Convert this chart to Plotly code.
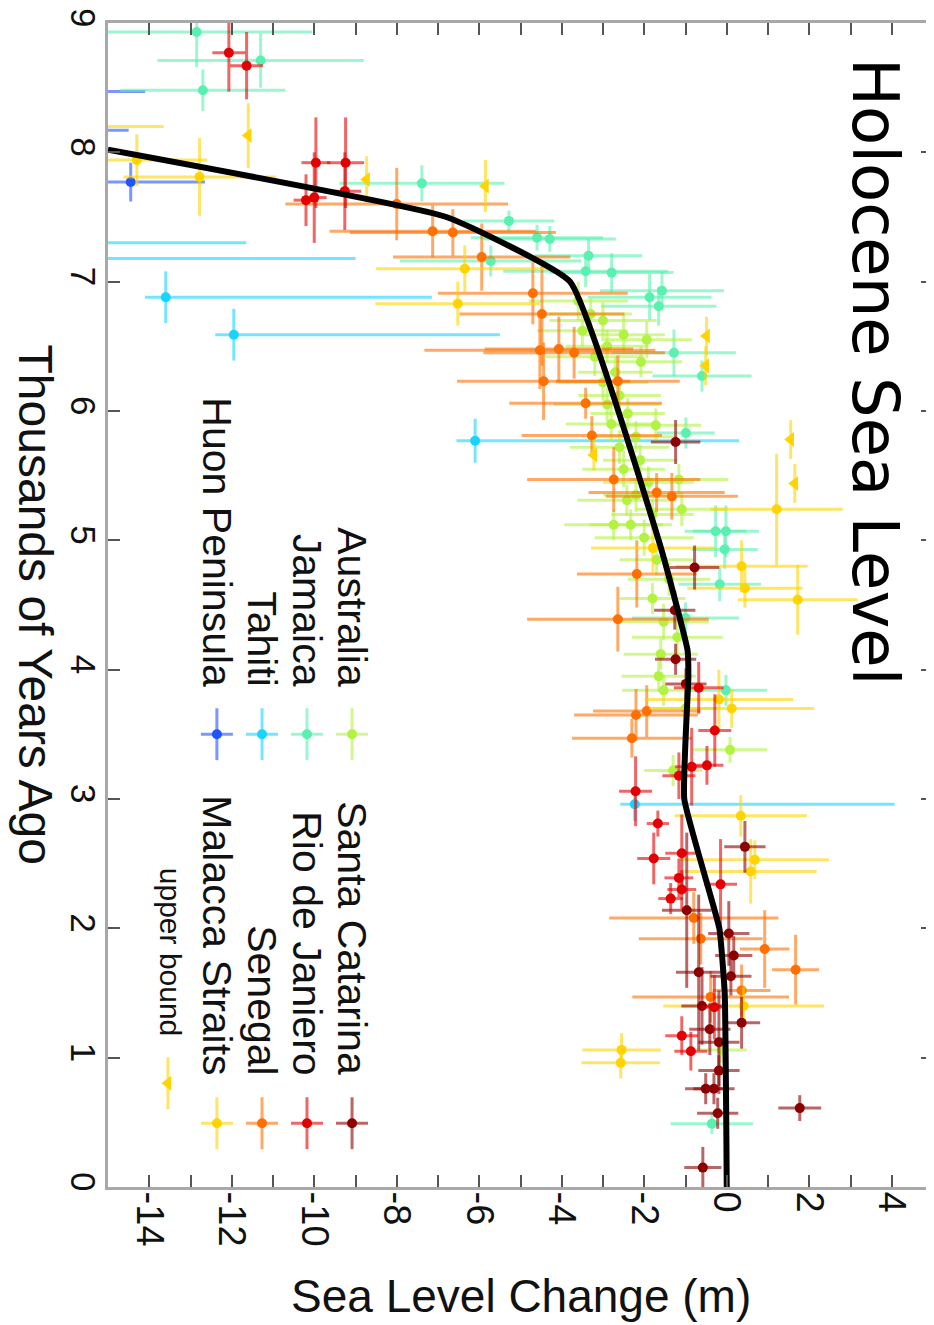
import plotly.graph_objects as go

# ---------------- data (age in kyr BP, sea level in m) ----------------
huon_age = [7.77, 8.47, 8.17]
huon_sea = [-14.45, -17.0, -17.5]
huon_sea_err = [1.8, 2.9, 3.0]
huon_age_err = [0.15, 0.0, 0.0]

tahiti_age = [6.88, 6.59, 5.77, 2.96, 7.30, 7.18]
tahiti_sea = [-13.6, -11.95, -6.1, -2.23, -17.8, -18.0]
tahiti_sea_err_minus = [0.5, 0.45, 0.45, 0.35, 0.45, 0.45]
tahiti_sea_err_plus = [6.45, 6.45, 6.4, 6.3, 6.15, 9.0]
tahiti_age_err = [0.2, 0.2, 0.17, 0.13, 0.0, 0.0]

jamaica_age = [8.93, 8.71, 8.48, 7.76, 7.47, 7.16, 7.34, 7.33, 7.20, 7.08, 7.07, 6.88,
               6.93, 6.81, 6.45, 6.27, 5.83, 5.07, 5.07, 4.93, 4.66, 4.40, 3.84, 0.49]
jamaica_sea = [-12.85, -11.3, -12.7, -7.39, -5.28, -5.72, -4.6, -4.29, -3.35, -3.42, -2.79, -1.87,
               -1.57, -1.65, -1.28, -0.6, -0.99, -0.27, -0.02, -0.05, -0.17, -1.0, -0.02, -0.36]
jamaica_sea_err = [2.8, 2.5, 2.0, 2.0, 1.1, 2.2, 1.6, 1.6, 1.3, 2.0, 1.5, 1.5,
                   1.5, 1.4, 1.5, 1.2, 0.7, 0.75, 0.8, 0.8, 1.0, 1.3, 1.0, 1.0]
jamaica_age_err = [0.27, 0.21, 0.16, 0.14, 0.08, 0.12, 0.1, 0.1, 0.13, 0.12, 0.15, 0.18,
                   0.15, 0.15, 0.18, 0.12, 0.12, 0.2, 0.2, 0.15, 0.13, 0.12, 0.12, 0.08]

australia_age = [6.59, 6.55, 6.38, 5.47, 5.24, 5.12, 5.12, 4.37, 3.95, 3.84, 3.38, 5.89, 5.31, 1.06,
                 6.85, 6.75, 6.70, 6.62, 6.50, 6.42, 6.30, 6.22, 6.12, 6.05, 5.98, 5.90, 5.80,
                 5.72, 5.62, 5.55, 5.45, 5.35, 5.20, 5.02, 4.85, 4.70, 4.55, 4.25, 4.12, 3.70, 3.22]
australia_sea = [-2.5, -1.94, -2.08, -1.16, -1.09, -2.74, -2.33, -1.53, -1.65, -1.53, 0.08, -1.72, -2.42, -0.12,
                 -3.6, -3.3, -3.0, -3.5, -2.9, -3.2, -2.7, -3.0, -2.6, -2.9, -2.4, -2.8, -2.2,
                 -2.6, -2.1, -2.5, -1.9, -2.2, -1.8, -2.0, -1.7, -1.4, -1.8, -1.2, -1.6, -1.0, -1.3]
australia_sea_err = [1.0, 1.1, 1.0, 1.2, 1.1, 1.2, 1.0, 1.1, 0.9, 1.0, 0.9, 1.1, 1.2, 0.6,
                     1.2, 1.0, 1.3, 1.1, 1.0, 1.2, 0.9, 1.1, 1.0, 1.3, 0.9, 1.1, 1.0,
                     1.2, 0.9, 1.0, 1.1, 0.8, 1.0, 1.2, 0.9, 1.0, 0.8, 1.1, 0.9, 0.8, 0.7]
australia_age_err = [0.15, 0.14, 0.12, 0.12, 0.13, 0.12, 0.12, 0.14, 0.12, 0.12, 0.1, 0.13, 0.12, 0.1,
                     0.15, 0.12, 0.14, 0.12, 0.13, 0.15, 0.12, 0.14, 0.12, 0.13, 0.12, 0.14, 0.12,
                     0.13, 0.12, 0.14, 0.12, 0.13, 0.12, 0.14, 0.12, 0.13, 0.12, 0.14, 0.12, 0.12, 0.12]

santa_catarina_age = [5.76, 4.79, 4.46, 4.08, 3.89, 2.63, 2.14, 1.96, 1.79, 1.66, 1.63, 1.40,
                      1.27, 1.22, 1.12, 0.90, 0.76, 0.76, 0.57, 0.61, 0.15]
santa_catarina_sea = [-1.24, -0.78, -1.26, -1.24, -0.99, 0.44, -0.97, 0.05, 0.17, -0.68, 0.1, -0.6,
                      0.36, -0.41, -0.19, -0.19, -0.51, -0.31, -0.22, 1.77, -0.58]
santa_catarina_sea_err = [0.6, 0.6, 0.5, 0.5, 0.5, 0.5, 0.6, 0.5, 0.45, 0.55, 0.5, 0.5,
                          0.45, 0.5, 0.5, 0.5, 0.5, 0.5, 0.5, 0.52, 0.45]
santa_catarina_age_err = [0.17, 0.17, 0.15, 0.12, 0.12, 0.2, 0.6, 0.25, 0.15, 0.6, 0.15, 0.3,
                          0.2, 0.2, 0.4, 0.12, 0.12, 0.12, 0.12, 0.1, 0.16]

rio_age = [8.77, 8.67, 7.92, 7.92, 7.63, 7.65, 7.70, 3.86, 3.53, 3.26, 3.25, 3.18, 3.06, 2.81,
           2.54, 2.58, 2.39, 2.30, 2.23, 2.34, 1.17, 1.05, 1.39]
rio_sea = [-12.07, -11.64, -9.96, -9.24, -10.2, -10.0, -9.26, -0.68, -0.29, -0.48, -0.85, -1.16, -2.21, -1.67,
           -1.77, -1.09, -1.16, -1.09, -1.36, -0.15, -1.09, -0.87, -0.3]
rio_sea_err = [0.4, 0.4, 0.35, 0.45, 0.3, 0.3, 0.4, 0.6, 0.4, 0.4, 0.4, 0.4, 0.4, 0.27,
               0.4, 0.4, 0.35, 0.35, 0.3, 0.4, 0.4, 0.4, 0.3]
rio_age_err = [0.3, 0.26, 0.35, 0.35, 0.2, 0.35, 0.3, 0.2, 0.28, 0.15, 0.3, 0.18, 0.27, 0.1,
               0.2, 0.3, 0.15, 0.15, 0.12, 0.35, 0.15, 0.15, 0.25]

senegal_age = [7.60, 7.39, 7.38, 7.19, 6.91, 6.75, 6.47, 6.48, 6.45, 6.23, 6.23, 6.06, 5.81,
               5.47, 5.37, 5.34, 4.74, 4.39, 3.65, 3.68, 3.47, 2.08, 1.92, 1.84, 1.68, 1.52, 1.47]
senegal_sea = [-8.0, -7.13, -6.64, -5.94, -4.7, -4.48, -4.53, -4.07, -3.7, -4.44, -2.64, -3.42, -3.27,
               -2.74, -1.7, -1.33, -2.18, -2.64, -2.2, -1.94, -2.3, -0.8, -0.63, 0.92, 1.67, 0.36, -0.39]
senegal_sea_err = [2.7, 2.5, 2.5, 2.15, 2.3, 2.0, 2.8, 1.8, 2.2, 2.1, 1.5, 1.85, 1.7,
                   2.1, 1.65, 1.6, 1.45, 2.2, 1.5, 1.3, 1.45, 2.05, 1.5, 0.6, 0.57, 0.7, 1.9]
senegal_age_err = [0.28, 0.2, 0.18, 0.26, 0.24, 0.4, 0.3, 0.25, 0.2, 0.3, 0.2, 0.12, 0.15,
                   0.25, 0.15, 0.18, 0.26, 0.25, 0.2, 0.2, 0.15, 0.2, 0.2, 0.3, 0.27, 0.2, 0.2]

malacca_age = [7.81, 7.94, 8.20, 7.10, 6.83, 4.94, 5.24, 4.80, 4.63, 4.54, 3.70, 3.77,
               2.87, 2.53, 2.44, 1.40, 1.06, 0.96]
malacca_sea = [-12.78, -14.3, -17.0, -6.35, -6.52, -1.79, 1.21, 0.36, 0.44, 1.72, 0.12, -0.19,
               0.34, 0.68, 0.58, 0.41, -2.55, -2.57]
malacca_sea_err = [1.85, 1.7, 3.35, 2.15, 2.0, 1.5, 1.6, 1.6, 1.4, 1.45, 2.0, 1.8,
                   1.6, 1.8, 1.6, 1.95, 0.95, 0.95]
malacca_age_err = [0.3, 0.2, 0.0, 0.18, 0.17, 0.2, 0.43, 0.2, 0.15, 0.27, 0.15, 0.23,
                   0.16, 0.15, 0.25, 0.15, 0.13, 0.12]

upper_age = [8.13, 7.79, 7.74, 6.58, 6.35, 5.78, 5.44, 5.66]
upper_sea = [-11.6, -8.73, -5.85, -0.49, -0.51, 1.55, 1.65, -3.22]
upper_age_err = [0.25, 0.18, 0.2, 0.15, 0.15, 0.15, 0.15, 0.12]

curve_age = [8.02, 7.5, 7.0, 5.0, 4.5, 4.15, 3.95, 3.0, 2.0, 1.5, 0.0]
curve_sea = [-15.0, -6.8, -3.8, -1.65, -1.22, -0.95, -0.93, -1.03, -0.18, -0.05, 0.0]

x_tick_values = list(range(-14, 5))
x_tick_labels = [str(v) if v % 2 == 0 else "" for v in x_tick_values]
y_tick_values = list(range(0, 10))
y_tick_labels = [str(v) for v in y_tick_values]

# ---------------- styling ----------------
COLORS = {
    "Australia": (178, 242, 66),
    "Jamaica": (90, 240, 176),
    "Tahiti": (24, 212, 255),
    "Huon Peninsula": (32, 84, 255),
    "Santa Catarina": (140, 0, 0),
    "Rio de Janiero": (226, 0, 0),
    "Senegal": (255, 112, 0),
    "Malacca Straits": (255, 212, 0),
}
FONT = "Liberation Sans, Arial, Helvetica, sans-serif"
ERR_ALPHA = 0.6
ERR_THICK = 3
MARKER_SIZE = 10


def rgb(c, a=1.0):
    return f"rgba({c[0]},{c[1]},{c[2]},{a})"


def err(arr, minus=None, c=(0, 0, 0)):
    d = dict(type="data", array=arr, visible=True, width=0, thickness=ERR_THICK, color=rgb(c, ERR_ALPHA))
    if minus is not None:
        d["symmetric"] = False
        d["arrayminus"] = minus
    return d


series = [
    ("Huon Peninsula", huon_age, huon_sea, huon_sea_err, None, huon_age_err),
    ("Tahiti", tahiti_age, tahiti_sea, tahiti_sea_err_plus, tahiti_sea_err_minus, tahiti_age_err),
    ("Jamaica", jamaica_age, jamaica_sea, jamaica_sea_err, None, jamaica_age_err),
    ("Australia", australia_age, australia_sea, australia_sea_err, None, australia_age_err),
    ("Senegal", senegal_age, senegal_sea, senegal_sea_err, None, senegal_age_err),
    ("Malacca Straits", malacca_age, malacca_sea, malacca_sea_err, None, malacca_age_err),
    ("Santa Catarina", santa_catarina_age, santa_catarina_sea, santa_catarina_sea_err, None, santa_catarina_age_err),
    ("Rio de Janiero", rio_age, rio_sea, rio_sea_err, None, rio_age_err),
]

fig = go.Figure()
for name, age, sea, serr, serr_m, aerr in series:
    c = COLORS[name]
    fig.add_trace(go.Scatter(
        x=sea, y=age, mode="markers", name=name, showlegend=False,
        marker=dict(size=MARKER_SIZE, color=rgb(c)),
        error_x=err(serr, serr_m, c=c),
        error_y=err(aerr, c=c),
    ))

c = COLORS["Malacca Straits"]
fig.add_trace(go.Scatter(
    x=upper_sea, y=upper_age, mode="markers", name="upper bound", showlegend=False,
    marker=dict(size=13, symbol="triangle-left", color=rgb(c)),
    error_y=err(upper_age_err, c=c),
))

fig.add_trace(go.Scatter(
    x=curve_sea, y=curve_age, mode="lines", showlegend=False,
    line=dict(color="black", width=6, shape="spline", smoothing=0.35),
))

# ---------------- hand-made rotated legend (overlay axes in plot fractions) ----------------
legend_left = ["Australia", "Jamaica", "Tahiti", "Huon Peninsula"]
legend_right = ["Santa Catarina", "Rio de Janiero", "Senegal", "Malacca Straits"]
col_x = [0.2958, 0.2412, 0.1867, 0.1320]
row_marker_y = [0.389, 0.0548]
row_text_y = [0.4276, 0.0943]

for row, names in enumerate([legend_left, legend_right]):
    for i, name in enumerate(names):
        c = COLORS[name]
        fig.add_trace(go.Scatter(
            x=[col_x[i]], y=[row_marker_y[row]], xaxis="x2", yaxis="y2", mode="markers",
            showlegend=False, marker=dict(size=MARKER_SIZE, color=rgb(c)),
            error_x=dict(type="constant", value=0.0194, width=0, thickness=ERR_THICK, color=rgb(c, ERR_ALPHA)),
            error_y=dict(type="constant", value=0.0223, width=0, thickness=ERR_THICK, color=rgb(c, ERR_ALPHA)),
        ))
        fig.add_annotation(
            x=col_x[i], y=row_text_y[row], xref="paper", yref="paper", text=name,
            textangle=90, showarrow=False, xanchor="center", yanchor="bottom",
            font=dict(family=FONT, size=41, color="#111111"),
        )

c = COLORS["Malacca Straits"]
fig.add_trace(go.Scatter(
    x=[0.0727], y=[0.0891], xaxis="x2", yaxis="y2", mode="markers", showlegend=False,
    marker=dict(size=13, symbol="triangle-left", color=rgb(c)),
    error_y=dict(type="constant", value=0.0223, width=0, thickness=ERR_THICK, color=rgb(c, ERR_ALPHA)),
))
fig.add_annotation(
    x=0.0752, y=0.1277, xref="paper", yref="paper", text="upper bound", textangle=90,
    showarrow=False, xanchor="center", yanchor="bottom",
    font=dict(family=FONT, size=30, color="#111111"),
)

# ---------------- titles ----------------
fig.add_annotation(
    x=0.93, y=0.700, xref="paper", yref="paper", text="Holocene Sea Level", textangle=90,
    showarrow=False, xanchor="center", yanchor="middle",
    font=dict(family="DejaVu Sans, sans-serif", size=64, color="black"),
)
fig.add_annotation(
    x=-0.0885, y=0.5004, xref="paper", yref="paper", text="Thousands of Years Ago", textangle=90,
    showarrow=False, xanchor="center", yanchor="middle",
    font=dict(family=FONT, size=48, color="#111111"),
)
fig.add_annotation(
    x=0.5, y=-0.0935, xref="paper", yref="paper", text="Sea Level Change (m)",
    showarrow=False, xanchor="center", yanchor="middle",
    font=dict(family=FONT, size=46, color="#111111"),
)

axis_common = dict(
    showline=True, linecolor="#a8a8a8", linewidth=3, mirror="ticks",
    ticks="inside", ticklen=12, tickwidth=1.5, tickcolor="#555555",
    showgrid=False, zeroline=False, tickangle=90, ticklabeloverflow="allow",
    automargin=False,
)

# the page body adds an 8px offset, so margins are shifted to keep the plot area in place
fig.update_layout(
    width=934, height=1325,
    margin=dict(l=100, r=9, t=15, b=146, autoexpand=False),
    paper_bgcolor="white", plot_bgcolor="white",
    xaxis=dict(range=[-15, 5], tickmode="array", tickvals=x_tick_values, ticktext=x_tick_labels,
               ticklabelstandoff=-6, tickfont=dict(family=FONT, size=38, color="#111111"),
               **axis_common),
    yaxis=dict(range=[0, 9], tickmode="array", tickvals=y_tick_values, ticktext=y_tick_labels,
               ticklabelstandoff=-8, tickfont=dict(family=FONT, size=35, color="#111111"),
               **axis_common),
    xaxis2=dict(overlaying="x", range=[0, 1], visible=False, anchor="y2"),
    yaxis2=dict(overlaying="y", range=[0, 1], visible=False, anchor="x2"),
)

fig.write_html("out.html")
